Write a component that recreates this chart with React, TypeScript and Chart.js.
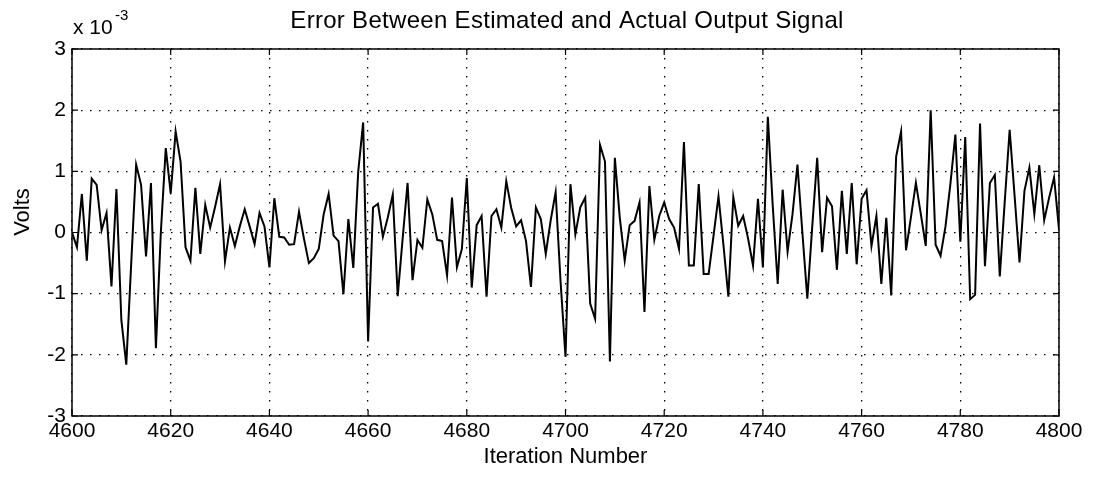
import React, { useEffect, useRef } from "react";
import { Chart, registerables } from "chart.js";

Chart.register(...registerables);

const TITLE = "Error Between Estimated and Actual Output Signal";
const X_TITLE = "Iteration Number";
const Y_TITLE = "Volts";

// iteration numbers (categories)
const iterations: number[] = Array.from({ length: 201 }, (_, i) => 4600 + i);

// error values in units of 1e-3 V
const errorValues: number[] = [
  0.0, -0.24, 0.63, -0.46, 0.88, 0.78, 0.04, 0.32, -0.88, 0.71,
  -1.43, -2.16, -0.5, 1.11, 0.78, -0.39, 0.81, -1.89, 0.0, 1.38,
  0.64, 1.65, 1.16, -0.24, -0.46, 0.73, -0.35, 0.45, 0.08, 0.42,
  0.79, -0.47, 0.08, -0.22, 0.1, 0.38, 0.1, -0.19, 0.32, 0.1,
  -0.57, 0.56, -0.07, -0.08, -0.2, -0.19, 0.34, -0.1, -0.5, -0.42,
  -0.27, 0.3, 0.63, -0.05, -0.14, -1.01, 0.22, -0.58, 1.0, 1.8,
  -1.78, 0.41, 0.47, -0.07, 0.25, 0.62, -1.04, -0.1, 0.81, -0.78,
  -0.12, -0.25, 0.54, 0.3, -0.12, -0.14, -0.7, 0.57, -0.57, -0.27,
  0.89, -0.9, 0.12, 0.27, -1.05, 0.27, 0.38, 0.08, 0.84, 0.4,
  0.1, 0.2, -0.14, -0.89, 0.41, 0.22, -0.35, 0.2, 0.66, -0.8,
  -2.03, 0.79, -0.03, 0.41, 0.57, -1.16, -1.41, 1.43, 1.16, -2.11,
  1.22, 0.24, -0.46, 0.12, 0.19, 0.49, -1.3, 0.76, -0.12, 0.27,
  0.49, 0.22, 0.08, -0.27, 1.48, -0.54, -0.54, 0.79, -0.68, -0.68,
  -0.05, 0.59, -0.2, -1.05, 0.58, 0.11, 0.27, -0.1, -0.54, 0.55,
  -0.57, 1.89, 0.43, -0.84, 0.7, -0.31, 0.3, 1.11, 0.0, -1.08,
  0.1, 1.22, -0.32, 0.57, 0.43, -0.61, 0.68, -0.35, 0.81, -0.52,
  0.55, 0.69, -0.22, 0.27, -0.84, 0.24, -1.03, 1.24, 1.65, -0.29,
  0.25, 0.81, 0.3, -0.22, 2.0, -0.2, -0.38, 0.1, 0.8, 1.6,
  -0.15, 1.56, -1.09, -1.02, 1.78, -0.55, 0.81, 0.94, -0.72, 0.5,
  1.68, 0.6, -0.49, 0.68, 1.06, 0.3, 1.1, 0.2, 0.57, 0.9,
  0.05,
];

const xTicks: number[] = [4600, 4620, 4640, 4660, 4680, 4700, 4720, 4740, 4760, 4780, 4800];
const yTicks: number[] = [-3, -2, -1, 0, 1, 2, 3];

const FONT = "'Liberation Sans', Arial, Helvetica, sans-serif";

const framePlugin = {
  id: "matlabFrame",
  afterDraw(chart: any) {
    const { ctx, chartArea } = chart;
    const { left, right, top, bottom } = chartArea;
    const xs = chart.scales.x;
    const ys = chart.scales.y;
    ctx.save();
    ctx.strokeStyle = "#000";
    ctx.lineWidth = 1.5;
    ctx.strokeRect(left, top, right - left, bottom - top);
    ctx.lineWidth = 1.2;
    const tl = 6;
    ctx.beginPath();
    for (const t of xTicks) {
      const px = xs.getPixelForValue(t);
      ctx.moveTo(px, bottom);
      ctx.lineTo(px, bottom - tl);
      ctx.moveTo(px, top);
      ctx.lineTo(px, top + tl);
    }
    for (const t of yTicks) {
      const py = ys.getPixelForValue(t);
      ctx.moveTo(left, py);
      ctx.lineTo(left + tl, py);
      ctx.moveTo(right, py);
      ctx.lineTo(right - tl, py);
    }
    ctx.stroke();

    ctx.fillStyle = "#000";
    // title
    ctx.font = `24px ${FONT}`;
    ctx.textAlign = "center";
    ctx.textBaseline = "alphabetic";
    (ctx as any).letterSpacing = "0.3px";
    ctx.fillText(TITLE, 567, 28);
    (ctx as any).letterSpacing = "0px";

    // exponent label
    ctx.font = `21px ${FONT}`;
    ctx.textAlign = "left";
    ctx.fillText("x 10", left + 1, 34);
    ctx.font = `15px ${FONT}`;
    ctx.fillText("-3", left + 43, 20);

    // x title
    ctx.font = `22px ${FONT}`;
    ctx.textAlign = "center";
    ctx.textBaseline = "middle";
    ctx.fillText(X_TITLE, (left + right) / 2, 457);

    // y title
    ctx.save();
    ctx.translate(23, 212);
    ctx.rotate(-Math.PI / 2);
    ctx.fillText(Y_TITLE, 0, 0);
    ctx.restore();
    ctx.restore();
  },
};

export default function App() {
  const ref = useRef<HTMLCanvasElement | null>(null);
  useEffect(() => {
    if (!ref.current) return;
    const chart = new Chart(ref.current, {
      type: "line",
      data: {
        datasets: [
          {
            data: errorValues.map((v, i) => ({ x: iterations[i], y: v })),
            borderColor: "#000",
            borderWidth: 2,
            pointRadius: 0,
            tension: 0,
            fill: false,
          },
        ],
      },
      options: {
        responsive: false,
        animation: false,
        events: [],
        layout: { padding: { left: 0, right: 34, top: 49, bottom: 0 } },
        plugins: { legend: { display: false }, title: { display: false }, tooltip: { enabled: false } },
        scales: {
          x: {
            type: "linear",
            min: 4600,
            max: 4800,
            afterFit: (s: any) => {
              s.height = 63;
            },
            afterBuildTicks: (s: any) => {
              s.ticks = xTicks.map((v) => ({ value: v }));
            },
            ticks: {
              color: "#000",
              font: { family: FONT, size: 21 },
              padding: 3,
              maxRotation: 0,
              autoSkip: false,
              callback: (v: any) => String(v),
            },
            grid: {
              color: "#000",
              lineWidth: 1.3,
              drawTicks: false,
            },
            border: { display: false, dash: [1.5, 7.5] },
          },
          y: {
            min: -3,
            max: 3,
            afterFit: (s: any) => {
              s.width = 72;
            },
            afterBuildTicks: (s: any) => {
              s.ticks = yTicks.map((v) => ({ value: v }));
            },
            ticks: {
              color: "#000",
              font: { family: FONT, size: 21 },
              padding: 6,
              autoSkip: false,
              callback: (v: any) => String(v),
            },
            grid: {
              color: "#000",
              lineWidth: 1.3,
              drawTicks: false,
            },
            border: { display: false, dash: [1.5, 7.5] },
          },
        },
      },
      plugins: [framePlugin],
    });
    return () => chart.destroy();
  }, []);
  return (
    <div style={{ position: "fixed", left: 0, top: 0, width: 1093, height: 479, background: "#fff" }}>
      <canvas ref={ref} width={1093} height={479} style={{ width: 1093, height: 479, display: "block" }} />
    </div>
  );
}
